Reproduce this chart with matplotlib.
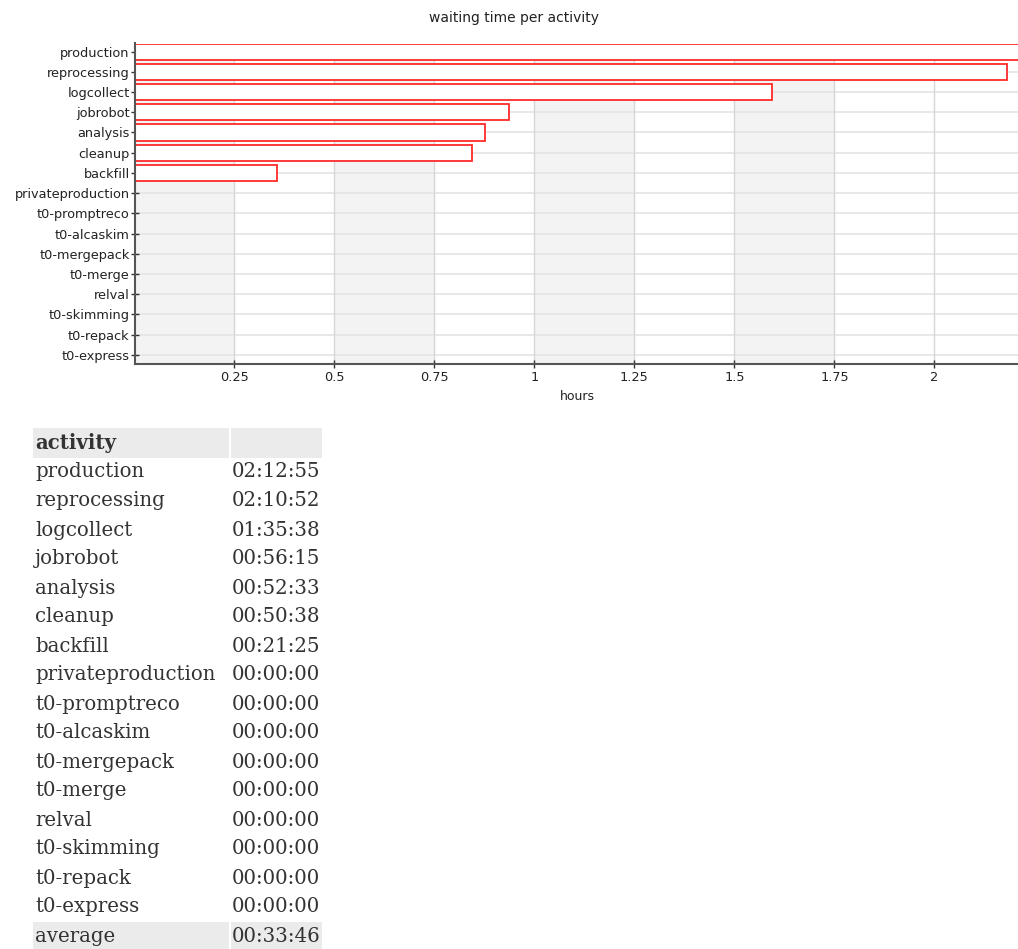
import matplotlib
matplotlib.use("Agg")
import matplotlib.pyplot as plt
from matplotlib.patches import Rectangle

# waiting time per activity (hh:mm:ss)
activities = ["production", "reprocessing", "logcollect", "jobrobot", "analysis",
              "cleanup", "backfill", "privateproduction", "t0-promptreco",
              "t0-alcaskim", "t0-mergepack", "t0-merge", "relval", "t0-skimming",
              "t0-repack", "t0-express"]
durations = ["02:12:55", "02:10:52", "01:35:38", "00:56:15", "00:52:33",
             "00:50:38", "00:21:25", "00:00:00", "00:00:00", "00:00:00",
             "00:00:00", "00:00:00", "00:00:00", "00:00:00", "00:00:00",
             "00:00:00"]
x_ticks = [0.25, 0.5, 0.75, 1, 1.25, 1.5, 1.75, 2]
x_tick_labels = ["0.25", "0.5", "0.75", "1", "1.25", "1.5", "1.75", "2"]


def to_seconds(s):
    h, m, sec = (int(p) for p in s.split(":"))
    return h * 3600 + m * 60 + sec


def to_hms(total):
    total = int(round(total))
    return f"{total // 3600:02d}:{(total % 3600) // 60:02d}:{total % 60:02d}"


seconds = [to_seconds(d) for d in durations]
hours = [s / 3600 for s in seconds]
average = to_hms(sum(seconds) / len(seconds))

W, H = 1018, 949
fig = plt.figure(figsize=(W / 100, H / 100), dpi=100)


def fx(px):
    return px / W


def fy(py):
    return 1 - py / H


sans = "DejaVu Sans"
ax = fig.add_axes([fx(134.5), fy(364.3), fx(1020.5 - 134.5), fy(43.5) - fy(364.3)])
xmax = max(hours)
ax.set_xlim(0, xmax)
ax.set_ylim(15.47, -0.4)

# alternating background bands
for i, lo in enumerate([0.0] + x_ticks[:-1]):
    hi = x_ticks[i]
    if i % 2 == 0:
        ax.axvspan(lo, hi, color="#f3f3f3", zorder=0, lw=0)

ypos = list(range(len(activities)))
for y in ypos:
    ax.axhline(y, color="#e4e4e4", lw=1.2, zorder=1)
for xt in x_ticks:
    ax.axvline(xt, color="#d6d6d6", lw=1.0, zorder=1)

ax.barh(ypos, hours, height=0.8, color="white", edgecolor="#ff2a2a",
        linewidth=1.3, zorder=2)

ax.set_yticks(ypos)
ax.set_yticklabels(activities, fontsize=9.3, family=sans, color="#222222")
ax.set_xticks(x_ticks)
ax.set_xticklabels(x_tick_labels, fontsize=9.3, family=sans, color="#222222")
ax.tick_params(axis="both", direction="inout", length=6, width=1.0,
               color="#333333", pad=0.5)
ax.tick_params(axis="x", pad=2)
for side in ("top", "right"):
    ax.spines[side].set_visible(False)
for side in ("left", "bottom"):
    ax.spines[side].set_color("#555555")
    ax.spines[side].set_linewidth(1.5)
ax.set_xlabel("hours", fontsize=9, family=sans, color="#222222", labelpad=4)

fig.text(fx(514), fy(18), "waiting time per activity", ha="center", va="center",
         fontsize=10, family=sans, color="#222222")

# summary table
serif = "DejaVu Serif"
row0 = 443
step = 29.0
col1_x0, col1_x1 = 33, 229
col2_x0, col2_x1 = 231, 322
rows = [("activity", "")] + list(zip(activities, durations)) + [("average", average)]
for i, (name, val) in enumerate(rows):
    yc = row0 + i * step
    shaded = i == 0 or i == len(rows) - 1
    if shaded:
        for x0, x1 in ((col1_x0, col1_x1), (col2_x0, col2_x1)):
            fig.patches.append(Rectangle((fx(x0), fy(yc + 14.5)), fx(x1 - x0),
                                         fy(yc - 14.5) - fy(yc + 14.5),
                                         transform=fig.transFigure,
                                         facecolor="#ebebeb", edgecolor="none"))
    fig.text(fx(35), fy(yc), name, ha="left", va="center", fontsize=14.2,
             family=serif, color="#333333",
             fontweight="bold" if i == 0 else "normal")
    if val:
        fig.text(fx(232), fy(yc), val, ha="left", va="center", fontsize=14.2,
                 family=serif, color="#333333")

fig.savefig("out.png", dpi=100)
